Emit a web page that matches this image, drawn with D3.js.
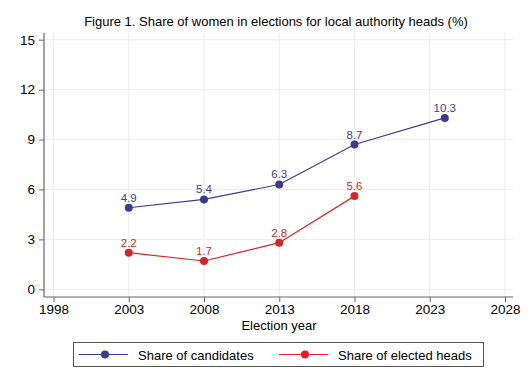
<!DOCTYPE html>
<html>
<head>
<meta charset="utf-8">
<script src="https://cdn.jsdelivr.net/npm/d3@7"></script>
<style>
  body { margin: 0; background: #fff; }
  svg { display: block; font-family: "Liberation Sans", Arial, sans-serif; }
</style>
</head>
<body>
<script>
const candYears = [2003, 2008, 2013, 2018, 2024];
const candValues = [4.9, 5.4, 6.3, 8.7, 10.3];
const electYears = [2003, 2008, 2013, 2018];
const electValues = [2.2, 1.7, 2.8, 5.6];
const xTicks = [1998, 2003, 2008, 2013, 2018, 2023, 2028];
const yTicks = [0, 3, 6, 9, 12, 15];
const seriesNames = ["Share of candidates", "Share of elected heads"];

const blue = "#3b3b8f";
const red = "#d42626";

const W = 528, H = 384;
const svg = d3.select("body").append("svg")
    .attr("width", W)
    .attr("height", H);

svg.append("rect").attr("width", W).attr("height", H).attr("fill", "#fff");

const plotL = 44, plotR = 513, plotT = 33, plotB = 297;

const x = d3.scaleLinear().domain([1998, 2028]).range([53.5, 505]);
const y = d3.scaleLinear().domain([0, 15]).range([289.3, 39.7]);

// grid
svg.append("g").selectAll("line")
  .data(xTicks)
  .join("line")
    .attr("x1", d => x(d)).attr("x2", d => x(d))
    .attr("y1", plotT).attr("y2", plotB)
    .attr("stroke", "#ebebf0").attr("stroke-width", 1);

svg.append("g").selectAll("line")
  .data(yTicks)
  .join("line")
    .attr("x1", plotL).attr("x2", plotR)
    .attr("y1", d => y(d)).attr("y2", d => y(d))
    .attr("stroke", "#ebebf0").attr("stroke-width", 1);

// axes
const yAxis = svg.append("g")
    .attr("transform", `translate(${plotL},0)`)
    .call(d3.axisLeft(y).tickValues(yTicks).tickSize(5).tickPadding(4));
yAxis.select(".domain").attr("d", `M0,${plotT}V${plotB}`);

const xAxis = svg.append("g")
    .attr("transform", `translate(0,${plotB})`)
    .call(d3.axisBottom(x).tickValues(xTicks).tickFormat(d3.format("d")).tickSize(5).tickPadding(2));
xAxis.select(".domain").attr("d", `M${plotL},0H${plotR}`);

[xAxis, yAxis].forEach(g => {
  g.select(".domain").attr("stroke", "#666").attr("stroke-width", 1.2);
  g.selectAll(".tick line").attr("stroke", "#666");
  g.selectAll(".tick text")
    .attr("fill", "#000")
    .attr("font-size", 13.5)
    .attr("font-family", "Liberation Sans, Arial, sans-serif");
});

// title & axis label
svg.append("text")
    .attr("x", 276).attr("y", 26)
    .attr("text-anchor", "middle")
    .attr("font-size", 13)
    .text("Figure 1. Share of women in elections for local authority heads (%)");

svg.append("text")
    .attr("x", 279).attr("y", 330)
    .attr("text-anchor", "middle")
    .attr("font-size", 13)
    .text("Election year");

// series
const series = [
  { years: candYears, values: candValues, color: blue },
  { years: electYears, values: electValues, color: red }
];

const line = d3.line().x(d => x(d[0])).y(d => y(d[1]));

series.forEach(s => {
  const pts = d3.zip(s.years, s.values);
  svg.append("path")
      .attr("d", line(pts))
      .attr("fill", "none")
      .attr("stroke", s.color)
      .attr("stroke-width", 1.2);
  svg.append("g").selectAll("circle")
    .data(pts)
    .join("circle")
      .attr("cx", d => x(d[0]))
      .attr("cy", d => y(d[1]))
      .attr("r", 4)
      .attr("fill", s.color);
  svg.append("g").selectAll("text")
    .data(pts)
    .join("text")
      .attr("x", d => x(d[0]))
      .attr("y", d => y(d[1]) - 6)
      .attr("text-anchor", "middle")
      .attr("font-size", 11.5)
      .attr("fill", s.color)
      .text(d => d3.format(".1f")(d[1]));
});

// legend
const legend = svg.append("g");
legend.append("rect")
    .attr("x", 73.5).attr("y", 342.5)
    .attr("width", 410).attr("height", 24)
    .attr("fill", "#fff")
    .attr("stroke", "#555");

const legX = [79, 279];
seriesNames.forEach((name, i) => {
  const c = series[i].color;
  const lx = legX[i];
  legend.append("line")
      .attr("x1", lx).attr("x2", lx + 49)
      .attr("y1", 354.5).attr("y2", 354.5)
      .attr("stroke", c).attr("stroke-width", 1.2);
  legend.append("circle")
      .attr("cx", lx + 26).attr("cy", 354.5).attr("r", 4).attr("fill", c);
  legend.append("text")
      .attr("x", lx + 59).attr("y", 359.5)
      .attr("font-size", 13)
      .text(name);
});
</script>
</body>
</html>
